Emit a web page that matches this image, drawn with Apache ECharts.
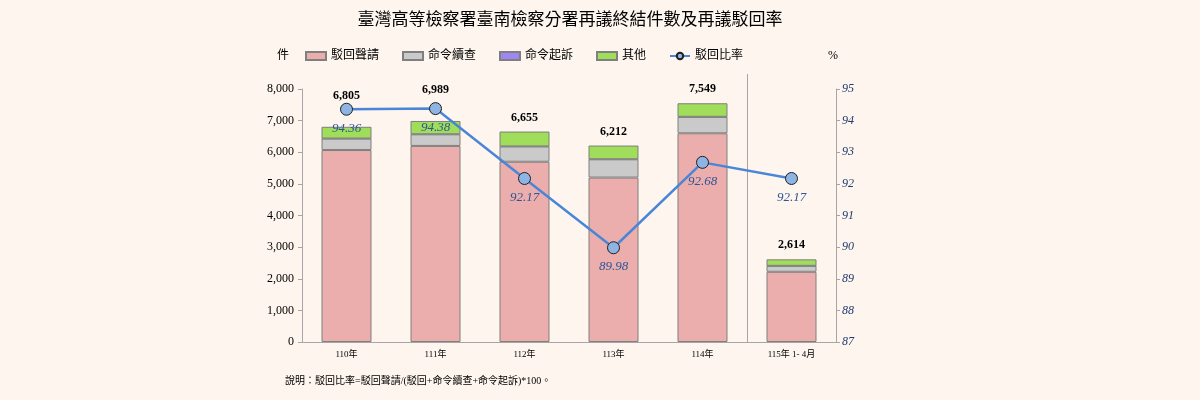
<!DOCTYPE html>
<html>
<head>
<meta charset="utf-8">
<script src="https://cdn.jsdelivr.net/npm/echarts@6/dist/echarts.min.js"></script>
<style>
  html, body { margin: 0; padding: 0; background: #fef6ee; }
  #chart { width: 1200px; height: 400px; }
</style>
</head>
<body>
<div id="chart"></div>
<script>
const years = ['110年', '111年', '112年', '113年', '114年', '115年 1- 4月'];
const rejected = [6070, 6200, 5700, 5200, 6600, 2220];
const furtherInvestigation = [360, 367, 482, 577, 519, 188];
const ordered = [3, 3, 2, 2, 2, 1];
const others = [372, 419, 471, 433, 428, 205];
const totals = [6805, 6989, 6655, 6212, 7549, 2614];
const rejectRate = [94.36, 94.38, 92.17, 89.98, 92.68, 92.17];

const serif = '"Liberation Serif", "Times New Roman", "Noto Sans CJK TC", serif';
const cjk = '"Liberation Serif", "Noto Sans CJK TC", serif';
const axisGray = '#a6a6a6';
const barBorder = { borderColor: '#7f7f7f', borderWidth: 1 };

const chart = echarts.init(document.getElementById('chart'));

const option = {
  backgroundColor: '#fef6ee',
  animation: false,
  title: {
    text: '臺灣高等檢察署臺南檢察分署再議終結件數及再議駁回率',
    left: 565,
    textAlign: 'center',
    top: 7,
    textStyle: { fontFamily: cjk, fontSize: 17, fontWeight: 'normal', color: '#000' }
  },
  legend: {
    left: 300,
    top: 45,
    itemWidth: 20,
    itemHeight: 8,
    itemGap: 23,
    textStyle: { fontFamily: cjk, fontSize: 12, color: '#000' },
    data: [
      { name: '駁回聲請', icon: 'rect' },
      { name: '命令續查', icon: 'rect' },
      { name: '命令起訴', icon: 'rect' },
      { name: '其他', icon: 'rect' },
      { name: '駁回比率' }
    ]
  },
  grid: [
    { left: 302, right: 364, top: 89, bottom: 58 },
    { left: 302, right: 364, top: 74, bottom: 58 }
  ],
  xAxis: [
    {
      type: 'category',
      data: years,
      gridIndex: 0,
      axisLine: { lineStyle: { color: axisGray } },
      axisTick: { lineStyle: { color: axisGray }, length: 4 },
      axisLabel: { fontFamily: cjk, fontSize: 9, color: '#000', margin: 8 }
    },
    {
      type: 'value',
      gridIndex: 1,
      min: 0,
      max: 6,
      show: false
    }
  ],
  yAxis: [
    {
      type: 'value',
      gridIndex: 0,
      min: 0,
      max: 8000,
      interval: 1000,
      name: '件',
      nameGap: 27,
      nameTextStyle: { fontFamily: cjk, fontSize: 12, color: '#000', align: 'center', padding: [0, 38, 0, 0] },
      axisLine: { show: true, lineStyle: { color: axisGray } },
      axisTick: { show: true, length: 4, lineStyle: { color: axisGray } },
      axisLabel: {
        fontFamily: serif, fontSize: 12, color: '#000', margin: 8,
        formatter: v => v.toLocaleString('en-US')
      },
      splitLine: { show: false }
    },
    {
      type: 'value',
      gridIndex: 0,
      position: 'right',
      min: 87,
      max: 95,
      interval: 1,
      name: '%',
      nameGap: 27,
      nameTextStyle: { fontFamily: serif, fontSize: 12, color: '#000', align: 'center', padding: [0, 0, 0, -6] },
      axisLine: { show: true, lineStyle: { color: axisGray } },
      axisTick: { show: true, length: 4, lineStyle: { color: axisGray } },
      axisLabel: { fontFamily: serif, fontSize: 12, fontStyle: 'italic', color: '#1f3a6e', margin: 6 },
      splitLine: { show: false }
    },
    {
      type: 'value',
      gridIndex: 1,
      show: false,
      min: 0,
      max: 1
    }
  ],
  series: [
    {
      name: '駁回聲請',
      type: 'bar',
      stack: 'total',
      barWidth: 50,
      data: rejected,
      itemStyle: Object.assign({ color: '#ebaead' }, barBorder)
    },
    {
      name: '命令續查',
      type: 'bar',
      stack: 'total',
      barWidth: 50,
      data: furtherInvestigation,
      itemStyle: Object.assign({ color: '#cacaca' }, barBorder)
    },
    {
      name: '命令起訴',
      type: 'bar',
      stack: 'total',
      barWidth: 50,
      data: ordered,
      itemStyle: { color: '#9f86f0', borderColor: '#7f7f7f', borderWidth: 0.5 }
    },
    {
      name: '其他',
      type: 'bar',
      stack: 'total',
      barWidth: 50,
      data: others.map((v, i) => ({
        value: v,
        label: { distance: i < 2 ? 25 : 8 }
      })),
      itemStyle: Object.assign({ color: '#9fdd5a' }, barBorder),
      label: {
        show: true,
        position: 'top',
        fontFamily: serif,
        fontSize: 12,
        fontWeight: 'bold',
        color: '#000',
        formatter: p => totals[p.dataIndex].toLocaleString('en-US')
      }
    },
    {
      name: '駁回比率',
      type: 'line',
      yAxisIndex: 1,
      data: rejectRate,
      symbol: 'circle',
      symbolSize: 12,
      z: 5,
      lineStyle: { color: '#4a86d8', width: 2.5 },
      itemStyle: { color: '#8db4e2', borderColor: '#1f1f1f', borderWidth: 1 },
      label: {
        show: true,
        position: 'bottom',
        distance: 6,
        fontFamily: serif,
        fontSize: 13,
        fontStyle: 'italic',
        color: '#2f5597',
        formatter: p => p.value.toFixed(2)
      }
    },
    {
      name: 'separator',
      type: 'line',
      xAxisIndex: 1,
      yAxisIndex: 2,
      data: [],
      silent: true,
      markLine: {
        silent: true,
        symbol: 'none',
        label: { show: false },
        lineStyle: { color: axisGray, type: 'solid', width: 1 },
        data: [{ xAxis: 5 }]
      }
    }
  ],
  graphic: [
    {
      type: 'text',
      left: 285,
      top: 376,
      style: {
        text: '說明：駁回比率=駁回聲請/(駁回+命令續查+命令起訴)*100。',
        fontFamily: cjk,
        fontSize: 10,
        fill: '#000'
      }
    }
  ]
};

chart.setOption(option);
window.addEventListener('resize', () => chart.resize());
</script>
</body>
</html>
